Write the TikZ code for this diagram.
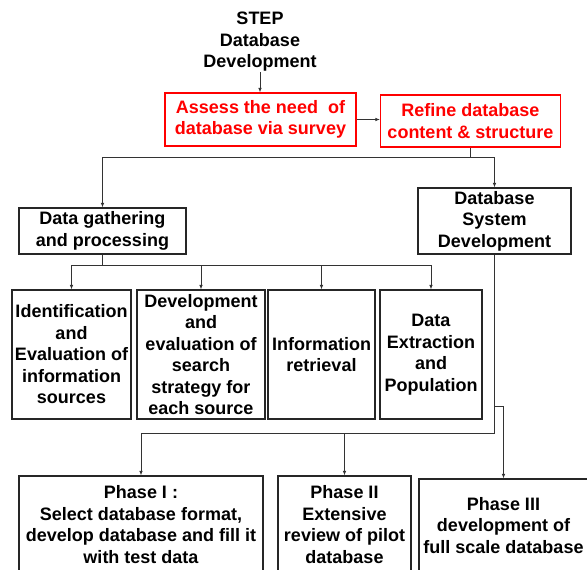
\documentclass[tikz,border=0pt]{standalone}
\usepackage{fontspec}
\setmainfont{Liberation Sans}
\usetikzlibrary{arrows.meta}
\begin{document}
\begin{tikzpicture}[x=1pt,y=-1pt,
  every node/.style={font=\bfseries\fontsize{18}{21.5}\selectfont, align=center, inner sep=0pt},
  box/.style={draw=black!85, line width=1.1pt, rectangle},
  redbox/.style={draw=red, line width=1.1pt, rectangle, text=red},
  conn/.style={draw=black!80, line width=0.8pt},
  arr/.style={conn, -{Latex[length=4.5pt,width=3.5pt]}}]
\useasboundingbox (0,0) rectangle (587,570);
\clip (0,0) rectangle (587,570);
\fill[white] (0,0) rectangle (587,570);

\node (title) at (260,42) {STEP\\Database\\Development};
\node[redbox, minimum width=191pt, minimum height=53pt] (redA) at (260.5,119.5) {Assess the need\ \ of\\database via survey};
\node[redbox, minimum width=180pt, minimum height=52pt] (redB) at (470.5,121) {Refine database\\content \& structure};

\node[box, minimum width=167pt, minimum height=46pt] (dg) at (102.5,231) {Data gathering\\and processing};
\node[box, minimum width=153pt, minimum height=66pt] (dsd) at (494.5,221) {Database\\System\\Development};

\node[box, minimum width=119pt, minimum height=129pt] (b1) at (71.5,354.5) {Identification\\and\\Evaluation of\\information\\sources};
\node[box, minimum width=128pt, minimum height=129pt] (b2) at (201,354.5) {Development\\and\\evaluation of\\search\\strategy for\\each source};
\node[box, minimum width=107pt, minimum height=129pt] (b3) at (321.5,354.5) {Information\\retrieval};
\node[box, minimum width=102pt, minimum height=129pt] (b4) at (431,354.5) {Data\\Extraction\\and\\Population};

\node[box, minimum width=244pt, minimum height=97pt] (p1) at (141,524.5) {Phase I :\\Select database format,\\develop database and fill it\\with test data};
\node[box, minimum width=133pt, minimum height=97pt] (p2) at (344.5,524.5) {Phase II\\Extensive\\review of pilot\\database};
\node[box, minimum width=169pt, minimum height=93pt] (p3) at (503.5,525.5) {Phase III\\development of\\full scale database};

\coordinate (j1) at (470.5,157);
\coordinate (j2) at (102.5,265);
\coordinate (j3) at (494.5,433);
\coordinate (j4) at (494.5,406);

\draw[arr] (title.south) -- (title.south |- redA.north);
\draw[arr] (redA.east) -- (redA.east -| redB.west);
\draw[arr] (redB.south) -- (j1) -| (dg.north);
\draw[arr] (j1) -| (dsd.north);

\draw[arr] (dg.south) -- (j2) -| (b1.north);
\draw[arr] (j2) -| (b2.north);
\draw[arr] (j2) -| (b3.north);
\draw[arr] (j2) -| (b4.north);

\draw[arr] (dsd.south) -- (j3) -| (p1.north);
\draw[arr] (j3) -| (p2.north);
\draw[arr] (j4) -| (p3.north);
\end{tikzpicture}
\end{document}
